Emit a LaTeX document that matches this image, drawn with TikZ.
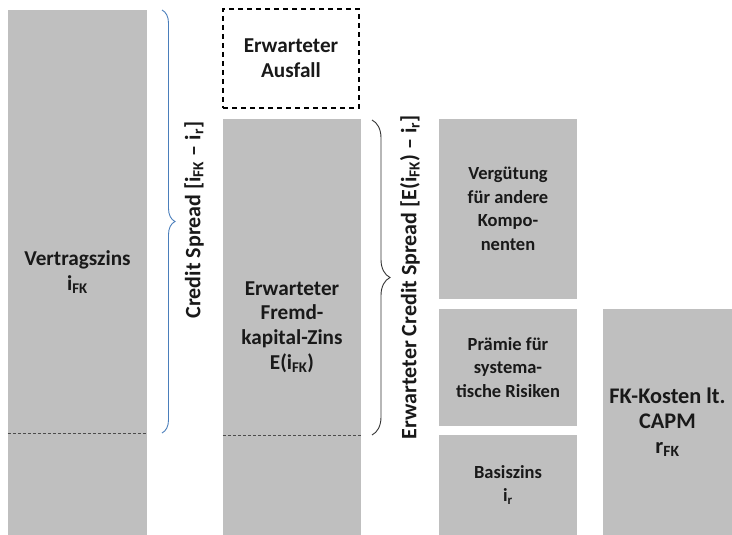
\documentclass[tikz,border=0pt]{standalone}
\usepackage{fontspec}
\setmainfont{Carlito}
\usetikzlibrary{positioning, decorations.pathreplacing}
\definecolor{boxgray}{RGB}{191,191,191}
\definecolor{braceblue}{RGB}{74,126,187}
\tikzset{
  box/.style={fill=boxgray, inner sep=0pt, align=center, text=black!90,
    font=\bfseries\fontsize{21.2}{24.8}\selectfont},
  smallbox/.style={box, font=\bfseries\fontsize{18.5}{23.5}\selectfont},
  bigbox/.style={box, font=\bfseries\fontsize{22.3}{25}\selectfont},
  sepline/.style={dashed, dash pattern=on 3pt off 2pt, black!70, line width=0.7pt},
  spreadlabel/.style={rotate=90, inner sep=0pt, text=black!90,
    font=\bfseries\fontsize{22}{25}\selectfont}
}
\begin{document}
\begin{tikzpicture}[x=1pt,y=-1pt]
       \useasboundingbox (0,0) rectangle (732,535);
       % Spalten
       \node[box, minimum width=139, minimum height=525] (vertrag) at (77.5,272.5) {Vertragszins\\i\textsubscript{FK}};
       \node[box, fill=none, draw=black, line width=1.5pt, dash pattern=on 5pt off 4pt,
             minimum width=136, minimum height=99] (ausfall) at (291,58.5) {Erwarteter\\Ausfall};
       \node[box, minimum width=138, minimum height=416] (fremd) at (292,327) {Erwarteter\\Fremd-\\kapital-Zins\\E(i\textsubscript{FK})};
       \node[smallbox, minimum width=138, minimum height=180] (verguetung) at (508,209) {Vergütung\\für andere\\Kompo-\\nenten};
       \node[smallbox, minimum width=138, minimum height=117] (praemie) at (508,367.5) {Prämie für\\systema-\\tische Risiken};
       \node[smallbox, minimum width=138, minimum height=100] (basis) at (508,485) {Basiszins\\i\textsubscript{r}};
       \node[bigbox, minimum width=129, minimum height=226] (capm) at (667.5,422) {FK-Kosten lt.\\CAPM\\r\textsubscript{FK}};
       % Trennlinien
       \draw[sepline] (vertrag.west |- 0,433) -- (vertrag.east |- 0,433);
       \draw[sepline] (fremd.west |- 0,435) -- (fremd.east |- 0,435);
       % Klammern
       \draw[braceblue, line width=0.9pt, decorate, decoration={brace, amplitude=13pt}] (162,10) -- (162,433);
       \draw[black!80, line width=0.9pt, decorate, decoration={brace, amplitude=18pt}] (372,120) -- (372,435);
       \node[spreadlabel] (cs) at (194,220) {Credit Spread [i\textsubscript{FK} \textendash{} i\textsubscript{r}]};
       \node[spreadlabel] (ecs) at (410,277) {Erwarteter Credit Spread [E(i\textsubscript{FK}) \textendash{} i\textsubscript{r}]};
     \end{tikzpicture}
\end{document}
